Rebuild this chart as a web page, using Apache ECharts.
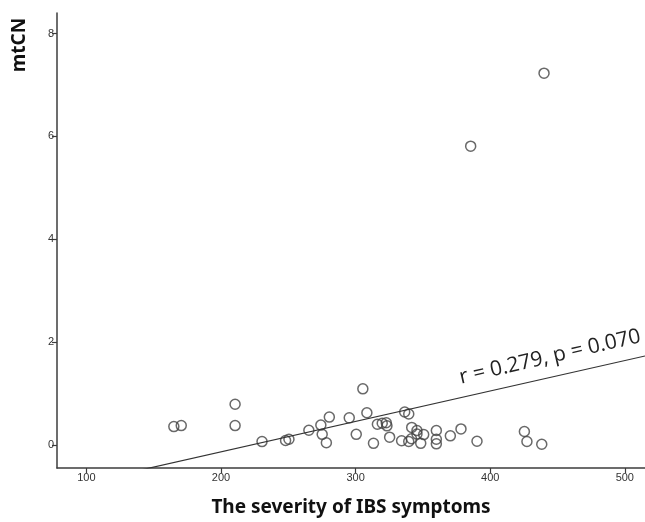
<!DOCTYPE html>
<html>
<head>
<meta charset="utf-8">
<script src="https://cdn.jsdelivr.net/npm/echarts@6/dist/echarts.min.js"></script>
<style>
  html, body { margin: 0; padding: 0; background: #fff; }
  #chart { width: 645px; height: 522px; }
</style>
</head>
<body>
<div id="chart"></div>
<script>
// IBS severity score vs mtCN
const severity = [
  165, 170.5, 210.5, 210.5, 230.5, 248, 250.5, 265.3, 274.2, 275.2,
  278.3, 280.5, 295.3, 300.5, 305.4, 308.4, 313.3, 316.2, 319.8, 322.8,
  323.3, 325.3, 334.2, 336.5, 339.5, 339.5, 341.5, 341.7, 345.6, 345.6,
  348.4, 350.6, 360, 360, 360, 370.4, 378.3, 390.2, 425.4, 427.3,
  438.3, 385.5, 440
];
const mtcn = [
  0.355, 0.375, 0.79, 0.375, 0.064, 0.084, 0.11, 0.285, 0.385, 0.205,
  0.042, 0.54, 0.525, 0.205, 1.09, 0.625, 0.03, 0.4, 0.42, 0.43,
  0.37, 0.15, 0.08, 0.64, 0.6, 0.065, 0.12, 0.34, 0.28, 0.21,
  0.03, 0.2, 0.28, 0.11, 0.02, 0.175, 0.31, 0.07, 0.26, 0.065,
  0.013, 5.81, 7.23
];

const xTicks = [100, 200, 300, 400, 500];
const yTicks = [0, 2, 4, 6, 8];
const xRange = [78.2, 515];
const yRange = [-0.45, 8.4];

// linear fit line
const fitSlope = 0.00592;
const fitIntercept = -1.32;
const fitLabel = "r = 0.279, p = 0.070";

const points = severity.map((x, i) => [x, mtcn[i]]);
const fitLine = xRange.map((x) => [x, fitIntercept + fitSlope * x]);

const axisColor = "#3c3c3c";
const chart = echarts.init(document.getElementById("chart"));

chart.setOption({
  animation: false,
  grid: { left: 57, right: 0, top: 13, bottom: 54 },
  xAxis: {
    type: "value",
    min: xRange[0],
    max: xRange[1],
    name: "The severity of IBS symptoms",
    nameLocation: "middle",
    nameGap: 30,
    nameTextStyle: {
      fontFamily: "Noto Sans",
      fontWeight: "bold",
      fontSize: 19,
      color: "#111",
    },
    splitLine: { show: false },
    axisLine: { show: true, onZero: false, lineStyle: { color: axisColor, width: 1.5 } },
    axisTick: {
      show: true,
      length: 5,
      customValues: xTicks,
      lineStyle: { color: axisColor, width: 1.2 },
    },
    axisLabel: {
      customValues: xTicks,
      margin: 4,
      fontFamily: "Liberation Sans",
      fontSize: 11,
      color: "#333",
    },
  },
  yAxis: {
    type: "value",
    min: yRange[0],
    max: yRange[1],
    splitLine: { show: false },
    axisLine: { show: true, onZero: false, lineStyle: { color: axisColor, width: 1.5 } },
    axisTick: {
      show: true,
      length: 5,
      customValues: yTicks,
      lineStyle: { color: axisColor, width: 1.2 },
    },
    axisLabel: {
      customValues: yTicks,
      margin: 3,
      fontFamily: "Liberation Sans",
      fontSize: 11,
      color: "#333",
    },
  },
  graphic: [
    {
      type: "text",
      x: 20,
      y: 45,
      rotation: Math.PI / 2,
      style: {
        text: "mtCN",
        fontFamily: "Noto Sans",
        fontWeight: "bold",
        fontSize: 19,
        fill: "#111",
        align: "center",
        verticalAlign: "middle",
      },
    },
    {
      type: "text",
      x: 550,
      y: 357,
      rotation: (13 * Math.PI) / 180,
      style: {
        text: fitLabel,
        fontFamily: "Open Sans",
        fontSize: 21,
        fill: "#222",
        align: "center",
        verticalAlign: "middle",
      },
    },
  ],
  series: [
    {
      type: "line",
      data: fitLine,
      symbol: "none",
      silent: true,
      lineStyle: { color: "#333", width: 1.2 },
    },
    {
      type: "scatter",
      data: points,
      symbol: "circle",
      symbolSize: 10,
      itemStyle: {
        color: "rgba(255,255,255,0)",
        borderColor: "#444",
        borderWidth: 1.5,
      },
      emphasis: { disabled: true },
    },
  ],
});
</script>
</body>
</html>
